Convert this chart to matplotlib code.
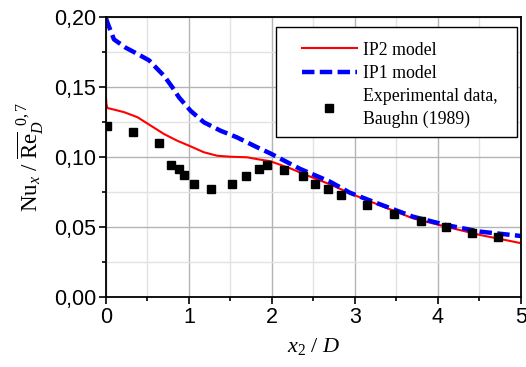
import numpy as np
import matplotlib
matplotlib.use('Agg')
import matplotlib.pyplot as plt
from matplotlib.ticker import MultipleLocator, FuncFormatter
from matplotlib.patches import Rectangle

# experimental data, Baughn (1989)
exp_x = [0.016, 0.32, 0.64, 0.78, 0.88, 0.94, 1.06, 1.26, 1.52, 1.69, 1.84, 1.94,
         2.15, 2.37, 2.52, 2.68, 2.83, 3.15, 3.47, 3.80, 4.10, 4.41, 4.73]
exp_y = [0.1224, 0.1176, 0.1098, 0.0945, 0.0912, 0.0869, 0.0805, 0.0774, 0.0805, 0.0864,
         0.0912, 0.0945, 0.0907, 0.0864, 0.0807, 0.0771, 0.0731, 0.0655, 0.0590, 0.0540,
         0.0500, 0.0460, 0.0430]

# IP2 model (red)
ip2_x = [0.0, 0.005, 0.016, 0.10, 0.22, 0.38, 0.54, 0.70, 0.86, 1.02, 1.18, 1.34, 1.50,
         1.70, 1.86, 1.98, 2.22, 2.46, 2.70, 2.94, 3.26, 3.70, 4.10, 4.51, 5.0]
ip2_y = [0.142, 0.138, 0.135, 0.1338, 0.132, 0.1284, 0.1224, 0.1164, 0.1116, 0.1076,
         0.1034, 0.1009, 0.1002, 0.0998, 0.0981, 0.0970, 0.0919, 0.0860, 0.0805, 0.0741,
         0.0665, 0.0562, 0.0502, 0.0443, 0.0385]

# IP1 model (blue dashed)
ip1_x = [0.0, 0.024, 0.096, 0.24, 0.38, 0.52, 0.64, 0.70, 0.80, 0.88, 1.02, 1.18, 1.38,
         1.58, 1.82, 1.98, 2.34, 2.70, 2.94, 3.26, 3.70, 4.10, 4.51, 5.0]
ip1_y = [0.199, 0.195, 0.184, 0.178, 0.1736, 0.169, 0.1616, 0.158, 0.1498, 0.1426,
         0.133, 0.1248, 0.1188, 0.114, 0.107, 0.1026, 0.0915, 0.0824, 0.0745, 0.0672,
         0.0574, 0.0514, 0.0467, 0.0436]

plt.rcParams['mathtext.fontset'] = 'custom'
plt.rcParams['mathtext.rm'] = 'Liberation Serif'
plt.rcParams['mathtext.it'] = 'Liberation Serif:italic'

fig = plt.figure(figsize=(5.26, 3.67), dpi=100)
ax = fig.add_axes([0.2015, 0.1907, 0.7885, 0.763])

ax.plot(ip2_x, ip2_y, '-', color='#ff0000', lw=1.5, label='IP2 model')
ax.plot(ip1_x, ip1_y, '--', color='#0000ff', lw=3.2, dashes=(2.8, 1.2), label='IP1 model')
ax.plot(exp_x, exp_y, 's', color='black', ms=5.5, ls='none',
        label='Experimental data,\nBaughn (1989)')

ax.set_xlim(0, 5)
ax.set_ylim(0, 0.2)
ax.xaxis.set_major_locator(MultipleLocator(1))
ax.xaxis.set_minor_locator(MultipleLocator(0.5))
ax.yaxis.set_major_locator(MultipleLocator(0.05))
ax.yaxis.set_minor_locator(MultipleLocator(0.025))
ax.yaxis.set_major_formatter(FuncFormatter(lambda v, p: ('%.2f' % v).replace('.', ',')))

ax.grid(which='major', color='#b4b4b4', lw=1.0)
ax.grid(which='minor', color='#e2e2e2', lw=1.0)
ax.set_axisbelow(True)

ax.tick_params(which='both', direction='out', top=False, right=False, width=1.2)
ax.tick_params(which='major', length=5, labelsize=15.5, pad=2)
ax.tick_params(which='minor', length=3)
for lab in ax.get_xticklabels() + ax.get_yticklabels():
    lab.set_family('Liberation Sans')
for s in ax.spines.values():
    s.set_linewidth(1.3)

ax.set_xlabel(r'$x_2\ /\ D$', fontsize=16, labelpad=6)
ax.set_ylabel(r'$\mathrm{Nu}_x\ /\ \overline{\mathrm{Re}}_D^{\ \ 0,7}$', fontsize=16.5, labelpad=6)

# legend frame drawn separately so the padding matches the original
ax.add_patch(Rectangle((0.4096, 0.571), 0.5804, 0.393, transform=ax.transAxes,
                       facecolor='white', edgecolor='black', lw=1.0, zorder=4))
leg = ax.legend(loc='upper left', bbox_to_anchor=(0.4723, 0.912), frameon=False,
                borderaxespad=0, borderpad=0, handlelength=3.1, handletextpad=0.35,
                labelspacing=0.35, prop={'family': 'Liberation Serif', 'size': 12.8})
leg.set_zorder(5)
leg.get_texts()[2].set_linespacing(1.4)

fig.savefig('out.png', dpi=100)
